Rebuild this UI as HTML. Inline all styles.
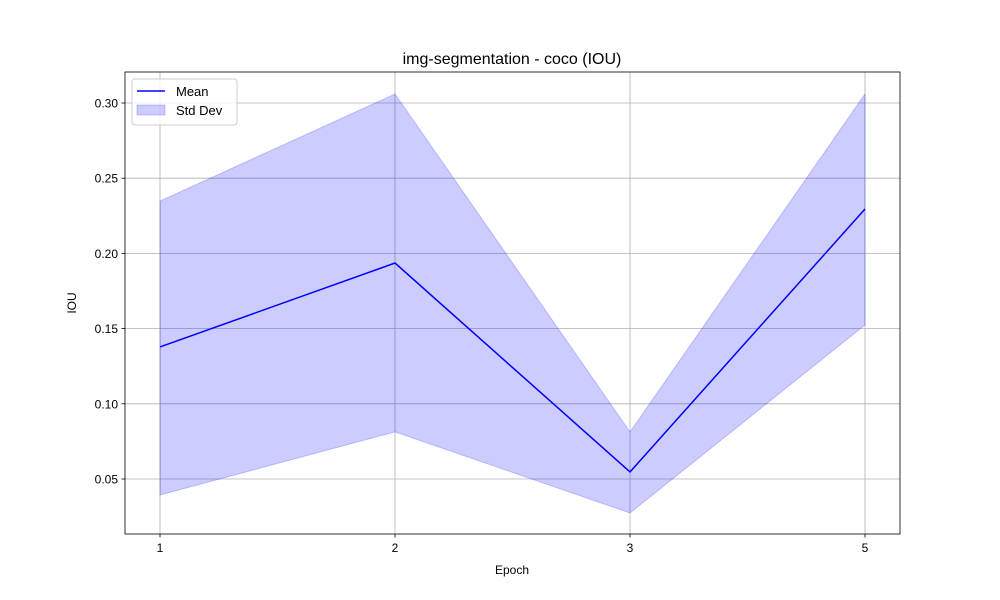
<!DOCTYPE html>
<html><head><meta charset="utf-8"><style>
body{margin:0;background:#fff;}
svg{display:block;font-family:"Liberation Sans","DejaVu Sans",sans-serif;}
</style></head><body>
<svg id="chart" width="1000" height="600">
<rect width="1000" height="600" fill="#fff"/>
</svg>
<script>
const categories=["1","2","3","5"];
const meanValues=[0.1378,0.1936,0.0547,0.2295];
const upperValues=[0.2348,0.306,0.0813,0.306];
const lowerValues=[0.0394,0.0813,0.0274,0.1524];
const yTicks=[0.05,0.10,0.15,0.20,0.25,0.30];
const yTickLabels=["0.05","0.10","0.15","0.20","0.25","0.30"];

const NS="http://www.w3.org/2000/svg";
const svg=document.getElementById('chart');
const L=125,R=900,T=72,B=534;
function xs(i){return 160+i*(865-160)/(categories.length-1);}
function ys(v){return 479-(v-0.05)*1504;}
function el(tag,attrs,parent){const e=document.createElementNS(NS,tag);for(const k in attrs)e.setAttribute(k,attrs[k]);(parent||svg).appendChild(e);return e;}

// grid
categories.forEach((c,i)=>{
  const g=el('line',{x1:xs(i),x2:xs(i),y1:T,y2:B,stroke:'#b0b0b0','stroke-width':0.8});
  
  
  const t=el('line',{x1:xs(i),x2:xs(i),y1:B,y2:B+3.5,stroke:'#000','stroke-width':0.8});
  
  
  const tx=el('text',{x:xs(i),y:B+18,'font-size':12,'text-anchor':'middle'});
  tx.textContent=c;
  
  
});
yTicks.forEach((v,i)=>{
  const g=el('line',{x1:L,x2:R,y1:ys(v),y2:ys(v),stroke:'#b0b0b0','stroke-width':0.8});
  
  
  const t=el('line',{x1:L-3.5,x2:L,y1:ys(v),y2:ys(v),stroke:'#000','stroke-width':0.8});
  
  
  const tx=el('text',{x:L-7,y:ys(v)+4.5,'font-size':12,'text-anchor':'end'});
  tx.textContent=yTickLabels[i];
  
  
});

// band
let pts=[];
upperValues.forEach((v,i)=>pts.push(xs(i)+','+ys(v)));
for(let i=lowerValues.length-1;i>=0;i--)pts.push(xs(i)+','+ys(lowerValues[i]));
const band=el('polygon',{points:pts.join(' '),fill:'rgba(0,0,255,0.2)',stroke:'rgba(0,0,255,0.2)','stroke-width':1});



const line=el('polyline',{points:meanValues.map((v,i)=>xs(i)+','+ys(v)).join(' '),fill:'none',stroke:'#0000ff','stroke-width':1.5});



const frame=el('rect',{x:L,y:T,width:R-L,height:B-T,fill:'none',stroke:'#000','stroke-width':0.8});



const title=el('text',{x:512,y:64,'font-size':16,'text-anchor':'middle'});
title.textContent='img-segmentation - coco (IOU)';


const xl=el('text',{x:512,y:574,'font-size':12,'text-anchor':'middle'});
xl.textContent='Epoch';


const yl=el('text',{x:0,y:0,'font-size':12,'text-anchor':'middle',transform:'translate(76,303) rotate(-90)'});
yl.textContent='IOU';



// legend
const lg=el('g',{});


el('rect',{x:132,y:79,width:105,height:46,rx:3,fill:'#fff','fill-opacity':0.8,stroke:'#ccc'},lg);
const e1=el('line',{x1:137,x2:165,y1:91,y2:91,stroke:'#0000ff','stroke-width':1.5},lg);


const t1=el('text',{x:176,y:96,'font-size':13},lg);t1.textContent='Mean';


const e2=el('rect',{x:137,y:105,width:28,height:10,fill:'rgba(0,0,255,0.2)',stroke:'rgba(0,0,255,0.2)'},lg);


const t2=el('text',{x:176,y:115,'font-size':13},lg);t2.textContent='Std Dev';


</script>
</body></html>
